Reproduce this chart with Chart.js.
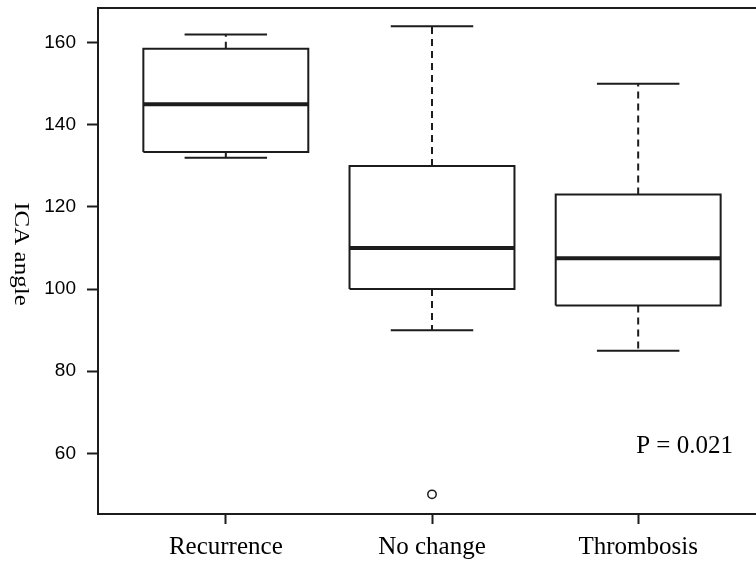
<!DOCTYPE html>
<html>
<head>
<meta charset="utf-8">
<script src="https://cdn.jsdelivr.net/npm/chart.js@4/dist/chart.umd.min.js"></script>
<style>
  html, body { margin: 0; padding: 0; overflow: hidden; background: #fff; }
  #wrap { width: 780px; height: 562px; }
</style>
</head>
<body>
<div id="wrap"><canvas id="c" width="780" height="562"></canvas></div>
<script>
// ---- data ----
const categories   = ["Recurrence", "No change", "Thrombosis"];
const whiskerLow   = [132.0, 90.0, 85.0];
const q1           = [133.4, 100.0, 96.0];
const median       = [145.0, 110.0, 107.5];
const q3           = [158.5, 130.0, 123.0];
const whiskerHigh  = [162.0, 164.0, 150.0];
const outliers     = [[], [50.0], []];
const yTicks       = [60, 80, 100, 120, 140, 160];
const yLimits      = [45.22, 168.45];
const xLimits      = [0.38, 3.62];
const pText        = "P = 0.021";
const pAt          = [3, 60];
const yTitle       = "ICA angle";

// ---- build line segments for the library ----
const BOX_HALF = 0.4, CAP_HALF = 0.2;
const gap = x => ({x: x, y: null});
const boxPts = [], medPts = [], whiskPts = [], capPts = [], outPts = [];
categories.forEach((c, k) => {
  const i = k + 1;
  boxPts.push({x:i-BOX_HALF,y:q1[k]},{x:i+BOX_HALF,y:q1[k]},{x:i+BOX_HALF,y:q3[k]},{x:i-BOX_HALF,y:q3[k]},{x:i-BOX_HALF,y:q1[k]},gap(i));
  medPts.push({x:i-BOX_HALF,y:median[k]},{x:i+BOX_HALF,y:median[k]},gap(i));
  whiskPts.push({x:i,y:q3[k]},{x:i,y:whiskerHigh[k]},gap(i),{x:i,y:q1[k]},{x:i,y:whiskerLow[k]},gap(i));
  capPts.push({x:i-CAP_HALF,y:whiskerHigh[k]},{x:i+CAP_HALF,y:whiskerHigh[k]},gap(i),{x:i-CAP_HALF,y:whiskerLow[k]},{x:i+CAP_HALF,y:whiskerLow[k]},gap(i));
  outliers[k].forEach(v => outPts.push({x:i,y:v}));
});

const INK = '#1c1c1c';
const seg = (data, width, dash) => ({
  type: 'scatter', data, showLine: true, spanGaps: false,
  borderColor: INK, borderWidth: width, borderDash: dash || [],
  borderCapStyle: 'butt', borderJoinStyle: 'miter',
  pointRadius: 0, fill: false, tension: 0
});

const framePlugin = {
  id: 'frame',
  afterDraw(chart) {
    const {ctx, chartArea: a, scales} = chart;
    ctx.save();
    ctx.strokeStyle = INK; ctx.lineWidth = 2;
    ctx.strokeRect(a.left, a.top, a.right - a.left, a.bottom - a.top);
    // P-value annotation
    ctx.fillStyle = '#000';
    ctx.font = '25px "Liberation Serif", "Times New Roman", serif';
    ctx.textAlign = 'left'; ctx.textBaseline = 'alphabetic';
    ctx.fillText(pText, scales.x.getPixelForValue(pAt[0]) - 2, scales.y.getPixelForValue(pAt[1]));
    // y-axis title, reading top to bottom
    ctx.translate(15, (a.top + a.bottom) / 2 - 7);
    ctx.rotate(Math.PI / 2);
    ctx.scale(1, 0.8);
    ctx.textAlign = 'center';
    ctx.fillText(yTitle, 0, 0);
    ctx.restore();
  }
};

new Chart(document.getElementById('c'), {
  type: 'scatter',
  data: {
    datasets: [
      seg(boxPts, 2),
      seg(whiskPts, 2, [7, 5]),
      seg(capPts, 2),
      seg(medPts, 4),
      { type: 'scatter', data: outPts, showLine: false, pointRadius: 4.2,
        pointStyle: 'circle', pointBorderColor: INK, pointBackgroundColor: 'rgba(0,0,0,0)',
        pointBorderWidth: 1.5 }
    ]
  },
  options: {
    responsive: false,
    animation: false,
    events: [],
    layout: { padding: { top: 8, right: 14, bottom: 0, left: 0 } },
    plugins: { legend: { display: false }, tooltip: { enabled: false } },
    scales: {
      x: {
        type: 'linear', min: xLimits[0], max: xLimits[1],
        afterFit(s) { s.height = 48; s.paddingLeft = 0; s.paddingRight = 0; },
        afterBuildTicks(s) { s.ticks = categories.map((c, k) => ({ value: k + 1 })); },
        border: { display: false },
        grid: { drawOnChartArea: false, drawTicks: true, tickLength: 10, tickColor: INK, tickWidth: 2 },
        ticks: {
          autoSkip: false, maxRotation: 0, padding: 8, color: '#000',
          font: { family: '"Liberation Serif", "Times New Roman", serif', size: 25 },
          callback: v => categories[Math.round(v) - 1]
        }
      },
      y: {
        type: 'linear', min: yLimits[0], max: yLimits[1],
        afterFit(s) { s.width = 98; s.paddingTop = 0; s.paddingBottom = 0; },
        afterBuildTicks(s) { s.ticks = yTicks.map(v => ({ value: v })); },
        border: { display: false },
        grid: { drawOnChartArea: false, drawTicks: true, tickLength: 11, tickColor: INK, tickWidth: 2 },
        ticks: {
          padding: 11, color: '#000',
          font: { family: '"Liberation Sans", Arial, sans-serif', size: 19 },
          callback: v => String(v)
        }
      }
    }
  },
  plugins: [framePlugin]
});
</script>
</body>
</html>
